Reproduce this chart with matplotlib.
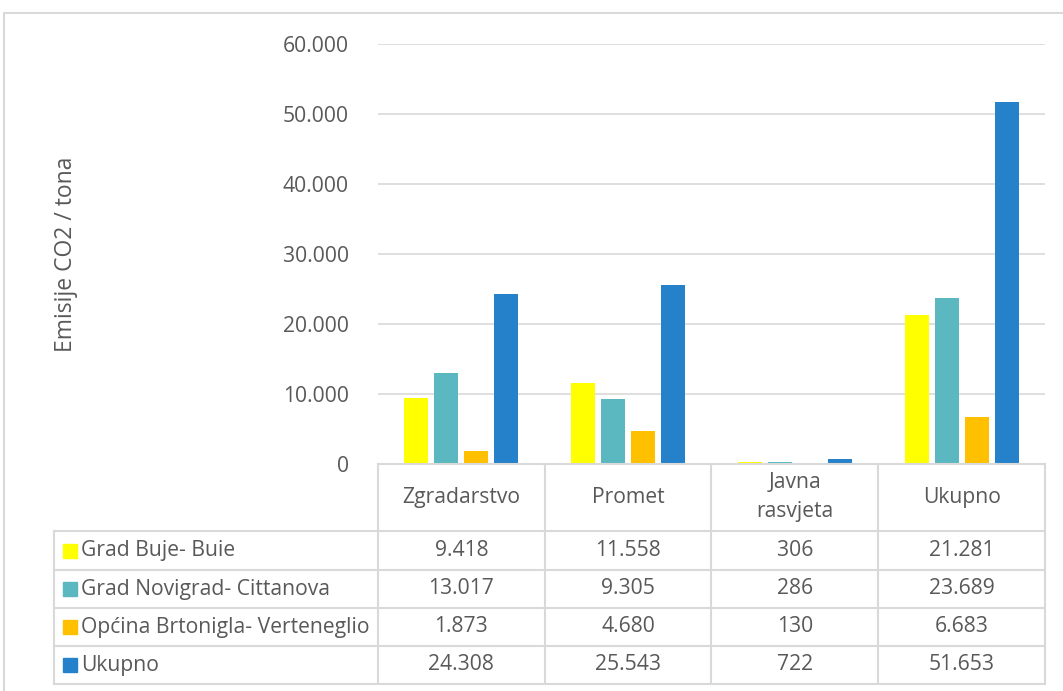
import matplotlib.pyplot as plt
import matplotlib.transforms as mtransforms
from matplotlib.patches import Rectangle
from matplotlib.lines import Line2D

# Data
categories = ['Zgradarstvo', 'Promet', 'Javna\nrasvjeta', 'Ukupno']
series_names = ['Grad Buje- Buie', 'Grad Novigrad- Cittanova',
                'Općina Brtonigla- Verteneglio', 'Ukupno']
buje = [9418, 11558, 306, 21281]
novigrad = [13017, 9305, 286, 23689]
brtonigla = [1873, 4680, 130, 6683]
ukupno = [24308, 25543, 722, 51653]
series_values = [buje, novigrad, brtonigla, ukupno]
colors = ['#FFFF00', '#5BB7C0', '#FFC000', '#2581C9']

plt.rcParams['font.family'] = ['Open Sans', 'DejaVu Sans']
text_color = '#595959'
line_color = '#D9D9D9'
fs = 15.2

W, H = 1063, 691
fig = plt.figure(figsize=(W / 100, H / 100), dpi=100)

def fx(px):
    return px / W

def fy(py):
    return 1 - py / H

# plot area in pixels
left, right, top, base = 378, 1045, 44, 464
ax = fig.add_axes([fx(left), fy(base), fx(right - left), (base - top) / H])

offsets = [-0.27, -0.09, 0.09, 0.27]
bar_w = 0.145
x = range(len(categories))
for vals, off, c, name in zip(series_values, offsets, colors, series_names):
    ax.bar([i + off for i in x], vals, width=bar_w, color=c, label=name, zorder=3)

ax.set_xlim(-0.5, len(categories) - 0.5)
ax.set_ylim(0, 60000)
ax.set_yticks(range(0, 60001, 10000))
ax.set_yticklabels([f'{v:,}'.replace(',', '.') for v in range(0, 60001, 10000)])
ax.tick_params(axis='y', length=0, labelsize=fs, labelcolor=text_color, pad=21)
ax.set_xticks([])
ax.grid(axis='y', color=line_color, linewidth=1.2, zorder=0)
for s in ax.spines.values():
    s.set_visible(False)
ax.set_ylabel('Emisije CO2 / tona', fontsize=16.5, color=text_color, labelpad=0)
ax.yaxis.set_label_coords(-0.45, 0.5)

# Table below the chart
row_edges = [464, 531, 570, 608, 646, 684]
col_edges = [378, 545, 711, 878, 1045]
tbl_left = 54

def hline(y, x0, x1):
    fig.add_artist(Line2D([fx(x0), fx(x1)], [fy(y), fy(y)], color=line_color, lw=1.5))

def vline(xp, y0, y1):
    fig.add_artist(Line2D([fx(xp), fx(xp)], [fy(y0), fy(y1)], color=line_color, lw=1.5))

hline(row_edges[0], col_edges[0], col_edges[-1])
for y in row_edges[1:]:
    hline(y, tbl_left, col_edges[-1])
for xp in col_edges:
    vline(xp, row_edges[0], row_edges[-1])
vline(tbl_left, row_edges[1], row_edges[-1])

# column headers positioned with the axes' x scale
trans = mtransforms.blended_transform_factory(ax.transData, fig.transFigure)
hdr_y = fy((row_edges[0] + row_edges[1]) / 2)
for i, cat in enumerate(categories):
    fig.text(i, hdr_y, cat, transform=trans, ha='center', va='center',
             fontsize=fs, color=text_color, linespacing=1.5)

for r, (name, vals, c) in enumerate(zip(series_names, series_values, colors)):
    yc = (row_edges[r + 1] + row_edges[r + 2]) / 2
    fig.add_artist(Rectangle((fx(63), fy(yc + 7)), fx(14), 14 / H, color=c,
                             transform=fig.transFigure))
    fig.text(fx(81), fy(yc), name, ha='left', va='center', fontsize=fs, color=text_color)
    for i, v in enumerate(vals):
        fig.text(i, fy(yc), f'{v:,}'.replace(',', '.'), transform=trans,
                 ha='center', va='center', fontsize=fs, color=text_color)

# outer chart frame
fig.add_artist(Rectangle((fx(4), fy(H + 5)), fx(W + 10), (H + 5 - 13) / H, fill=False,
                         edgecolor=line_color, lw=1.5, transform=fig.transFigure))

plt.savefig('out.png', dpi=100)
